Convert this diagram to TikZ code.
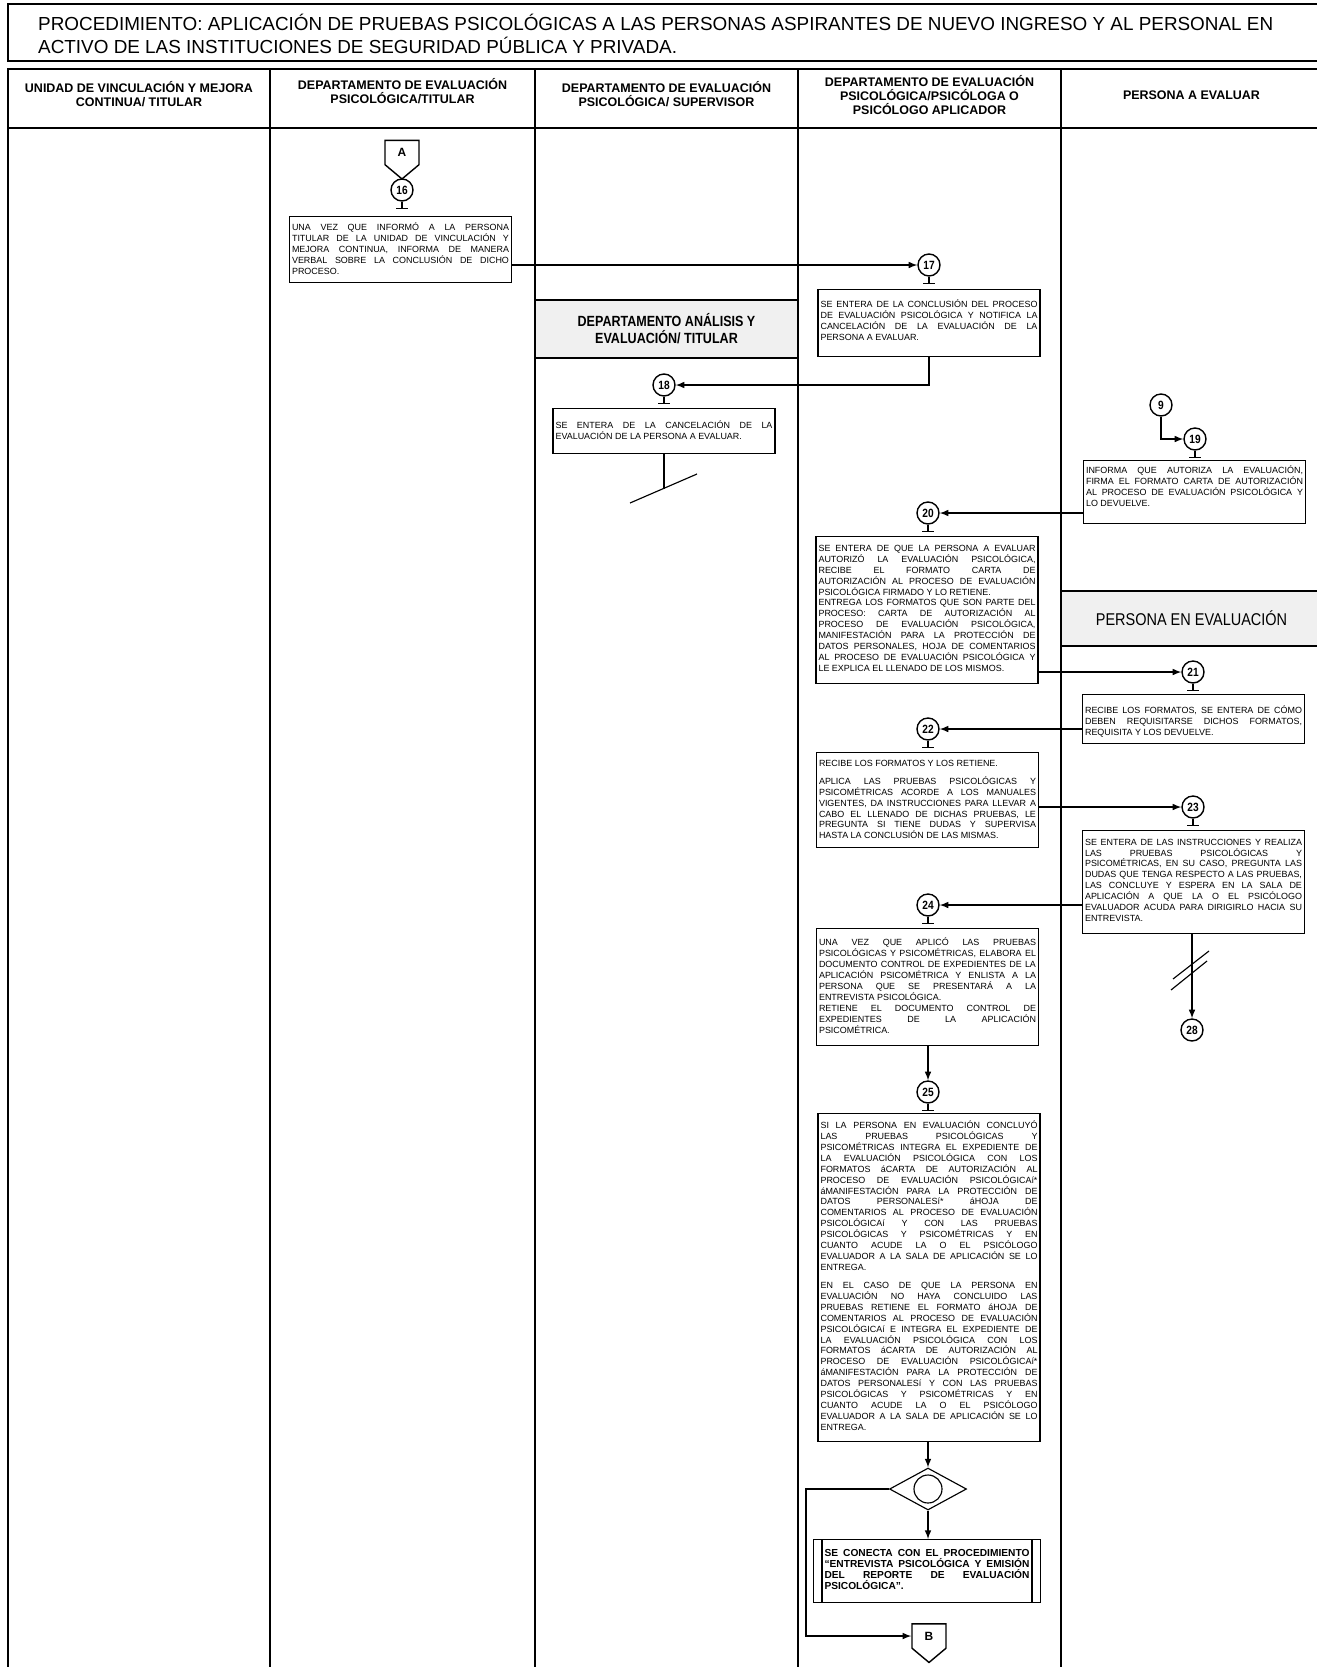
\documentclass[tikz,border=0pt]{standalone}
\usepackage{fontspec}
\setmainfont{Liberation Sans}
\newfontfamily\angosta{Liberation Sans}[FakeStretch=0.85]
\usetikzlibrary{calc}
\usetikzlibrary{shapes,arrows}

\definecolor{gris}{HTML}{F0F0F0}
\newdimen\px \px=0.02cm
\hbadness=10000
\newcommand{\cajafont}{\fontsize{5.1}{6.2}\selectfont}
% alto del texto, espacio arriba, texto
\newcommand{\caja}[3]{\parbox[c][#1\px][t]{4.34cm}{\vspace*{#2\px}\cajafont\sloppy #3}}

\tikzset{
  linea/.style={line width=0.9pt},
  encab/.style={align=center, font=\bfseries\fontsize{7.1}{8.2}\selectfont},
  paso/.style={draw, line width=0.65pt, anchor=north, inner xsep=0.05cm, inner ysep=0.08cm},
  num/.style={circle, draw, line width=0.8pt, minimum size=0.44cm, inner sep=0pt,
    font=\angosta\bfseries\fontsize{6.8}{6.8}\selectfont},
  conector/.style={signal, signal to=south, signal from=nowhere, signal pointer angle=100,
    draw, line width=0.8pt, minimum width=0.68cm, minimum height=0.56cm, inner sep=0pt,
    font=\bfseries\fontsize{6.8}{6.8}\selectfont},
  area/.style={draw, linea, fill=gris, align=center, inner sep=0pt},
  flecha/.style={line width=0.7pt, -latex},
  trazo/.style={line width=0.65pt}
}

\begin{document}
\begin{tikzpicture}[x=0.02cm, y=-0.02cm]
    \useasboundingbox (0,0) rectangle (1317,1667);

    % titulo y tabla
    \draw [linea] (8,4) rectangle (1322,61);
    \node [anchor=west, align=left, font=\fontsize{10.75}{13}\selectfont] (titulo) at (32,34)
      {PROCEDIMIENTO: APLICACIÓN DE PRUEBAS PSICOLÓGICAS A LAS PERSONAS ASPIRANTES DE NUEVO INGRESO Y AL PERSONAL EN\\
       ACTIVO DE LAS INSTITUCIONES DE SEGURIDAD PÚBLICA Y PRIVADA.};

    \draw [linea] (8,69) rectangle (1322,1690);
    \draw [linea] (8,128) -- (1322,128);
    \foreach \x in {270,535,798,1061}
      \draw [linea] (\x,69) -- (\x,1690);

    \node [encab] (h1) at (139,94) {UNIDAD DE VINCULACIÓN Y MEJORA\\CONTINUA/ TITULAR};
    \node [encab] (h2) at (402.5,91) {DEPARTAMENTO DE EVALUACIÓN\\PSICOLÓGICA/TITULAR};
    \node [encab] (h3) at (666.5,94) {DEPARTAMENTO DE EVALUACIÓN\\PSICOLÓGICA/ SUPERVISOR};
    \node [encab] (h4) at (929.5,95) {DEPARTAMENTO DE EVALUACIÓN\\PSICOLÓGICA/PSICÓLOGA O\\PSICÓLOGO APLICADOR};
    \node [encab] (h5) at (1191.5,95) {PERSONA A EVALUAR};

    % cambios de area
    \node [area, minimum width=5.26cm, minimum height=1.16cm, font=\angosta\bfseries\fontsize{8.4}{9.6}\selectfont]
      (g1) at (666.5,329) {DEPARTAMENTO ANÁLISIS Y\\EVALUACIÓN/ TITULAR};
    \node [area, minimum width=5.22cm, minimum height=1.1cm, font=\angosta\fontsize{9.7}{10}\selectfont]
      (g2) at (1191.5,618.5) {PERSONA EN EVALUACIÓN};

    % conectores y numeros
    \node [conector] (conA) at (402,152.5) {A};
    \node [num] (c16) at (402,190) {16};
    \node [num] (c17) at (929,265) {17};
    \node [num] (c18) at (664,385) {18};
    \node [num] (c9) at (1161,405) {9};
    \node [num] (c19) at (1195,439) {19};
    \node [num] (c20) at (928,513) {20};
    \node [num] (c21) at (1193,672) {21};
    \node [num] (c22) at (928,729) {22};
    \node [num] (c23) at (1193,807) {23};
    \node [num] (c24) at (928,905) {24};
    \node [num] (c28) at (1192,1030) {28};
    \node [num] (c25) at (928,1092) {25};

    \foreach \n in {c16,c17,c18,c19,c20,c21,c22,c23,c24,c25}
      \draw [trazo] (\n.south) -- ++(0,7) ++(-6,0) -- ++(12,0);

    % actividades
    \node [paso] (b16) at (400.5,216) {\caja{58}{2.6}{UNA VEZ QUE INFORMÓ A LA PERSONA\linebreak
      TITULAR DE LA UNIDAD DE VINCULACIÓN Y\linebreak
      MEJORA CONTINUA, INFORMA DE MANERA\linebreak
      VERBAL SOBRE LA CONCLUSIÓN DE DICHO\linebreak
      PROCESO.}};
    \node [paso] (b17) at (929,289) {\caja{59}{6.6}{SE ENTERA DE LA CONCLUSIÓN DEL PROCESO\linebreak
      DE EVALUACIÓN PSICOLÓGICA Y NOTIFICA LA\linebreak
      CANCELACIÓN DE LA EVALUACIÓN DE LA\linebreak
      PERSONA A EVALUAR.}};
    \node [paso] (b18) at (664,408) {\caja{37}{8.6}{SE ENTERA DE LA CANCELACIÓN DE LA\linebreak
      EVALUACIÓN DE LA PERSONA A EVALUAR.}};
    \node [paso] (b19) at (1194.5,460) {\caja{55}{1.6}{INFORMA QUE AUTORIZA LA EVALUACIÓN,\linebreak
      FIRMA EL FORMATO CARTA DE AUTORIZACIÓN\linebreak
      AL PROCESO DE EVALUACIÓN PSICOLÓGICA Y\linebreak
      LO DEVUELVE.}};
    \node [paso] (b20) at (927,536) {\caja{139}{4.6}{SE ENTERA DE QUE LA PERSONA A EVALUAR\linebreak
      AUTORIZÓ LA EVALUACIÓN PSICOLÓGICA,\linebreak
      RECIBE EL FORMATO CARTA DE\linebreak
      AUTORIZACIÓN AL PROCESO DE EVALUACIÓN\linebreak
      PSICOLÓGICA FIRMADO Y LO RETIENE.\par
      ENTREGA LOS FORMATOS QUE SON PARTE DEL\linebreak
      PROCESO: CARTA DE AUTORIZACIÓN AL\linebreak
      PROCESO DE EVALUACIÓN PSICOLÓGICA,\linebreak
      MANIFESTACIÓN PARA LA PROTECCIÓN DE\linebreak
      DATOS PERSONALES, HOJA DE COMENTARIOS\linebreak
      AL PROCESO DE EVALUACIÓN PSICOLÓGICA Y\linebreak
      LE EXPLICA EL LLENADO DE LOS MISMOS.}};
    \node [paso] (b21) at (1193.5,694) {\caja{41}{7.6}{RECIBE LOS FORMATOS, SE ENTERA DE CÓMO\linebreak
      DEBEN REQUISITARSE DICHOS FORMATOS,\linebreak
      REQUISITA Y LOS DEVUELVE.}};
    \node [paso] (b22) at (927.5,752) {\caja{87}{3.3}{RECIBE LOS FORMATOS Y LOS RETIENE.\par\vspace{4.2pt}
      APLICA LAS PRUEBAS PSICOLÓGICAS Y\linebreak
      PSICOMÉTRICAS ACORDE A LOS MANUALES\linebreak
      VIGENTES, DA INSTRUCCIONES PARA LLEVAR A\linebreak
      CABO EL LLENADO DE DICHAS PRUEBAS, LE\linebreak
      PREGUNTA SI TIENE DUDAS Y SUPERVISA\linebreak
      HASTA LA CONCLUSIÓN DE LAS MISMAS.}};
    \node [paso] (b23) at (1193.5,830) {\caja{95}{4.3}{SE ENTERA DE LAS INSTRUCCIONES Y REALIZA\linebreak
      LAS PRUEBAS PSICOLÓGICAS Y\linebreak
      PSICOMÉTRICAS, EN SU CASO, PREGUNTA LAS\linebreak
      DUDAS QUE TENGA RESPECTO A LAS PRUEBAS,\linebreak
      LAS CONCLUYE Y ESPERA EN LA SALA DE\linebreak
      APLICACIÓN A QUE LA O EL PSICÓLOGO\linebreak
      EVALUADOR ACUDA PARA DIRIGIRLO HACIA SU\linebreak
      ENTREVISTA.}};
    \node [paso] (b24) at (927.5,928) {\caja{109}{5.6}{UNA VEZ QUE APLICÓ LAS PRUEBAS\linebreak
      PSICOLÓGICAS Y PSICOMÉTRICAS, ELABORA EL\linebreak
      DOCUMENTO CONTROL DE EXPEDIENTES DE LA\linebreak
      APLICACIÓN PSICOMÉTRICA Y ENLISTA A LA\linebreak
      PERSONA QUE SE PRESENTARÁ A LA\linebreak
      ENTREVISTA PSICOLÓGICA.\par
      RETIENE EL DOCUMENTO CONTROL DE\linebreak
      EXPEDIENTES DE LA APLICACIÓN\linebreak
      PSICOMÉTRICA.}};
    \node [paso] (b25) at (929,1113) {\caja{320}{3.3}{SI LA PERSONA EN EVALUACIÓN CONCLUYÓ\linebreak
      LAS PRUEBAS PSICOLÓGICAS Y\linebreak
      PSICOMÉTRICAS INTEGRA EL EXPEDIENTE DE\linebreak
      LA EVALUACIÓN PSICOLÓGICA CON LOS\linebreak
      FORMATOS áCARTA DE AUTORIZACIÓN AL\linebreak
      PROCESO DE EVALUACIÓN PSICOLÓGICAí*\linebreak
      áMANIFESTACIÓN PARA LA PROTECCIÓN DE\linebreak
      DATOS PERSONALESí* áHOJA DE\linebreak
      COMENTARIOS AL PROCESO DE EVALUACIÓN\linebreak
      PSICOLÓGICAí Y CON LAS PRUEBAS\linebreak
      PSICOLÓGICAS Y PSICOMÉTRICAS Y EN\linebreak
      CUANTO ACUDE LA O EL PSICÓLOGO\linebreak
      EVALUADOR A LA SALA DE APLICACIÓN SE LO\linebreak
      ENTREGA.\par\vspace{4.2pt}
      EN EL CASO DE QUE LA PERSONA EN\linebreak
      EVALUACIÓN NO HAYA CONCLUIDO LAS\linebreak
      PRUEBAS RETIENE EL FORMATO áHOJA DE\linebreak
      COMENTARIOS AL PROCESO DE EVALUACIÓN\linebreak
      PSICOLÓGICAí E INTEGRA EL EXPEDIENTE DE\linebreak
      LA EVALUACIÓN PSICOLÓGICA CON LOS\linebreak
      FORMATOS áCARTA DE AUTORIZACIÓN AL\linebreak
      PROCESO DE EVALUACIÓN PSICOLÓGICAí*\linebreak
      áMANIFESTACIÓN PARA LA PROTECCIÓN DE\linebreak
      DATOS PERSONALESí Y CON LAS PRUEBAS\linebreak
      PSICOLÓGICAS Y PSICOMÉTRICAS Y EN\linebreak
      CUANTO ACUDE LA O EL PSICÓLOGO\linebreak
      EVALUADOR A LA SALA DE APLICACIÓN SE LO\linebreak
      ENTREGA.}};

    \node [diamond, draw, trazo, minimum width=1.54cm, minimum height=0.84cm, aspect=1.8, inner sep=0pt]
      (dec) at (928,1489) {};
    \node [circle, draw, trazo, minimum size=0.56cm, inner sep=0pt] (decc) at (dec.center) {};

    \node [paso, inner xsep=0.22cm, inner ysep=0.1cm] (b26) at (927,1539)
      {\parbox[c][53\px][t]{4.1cm}{\vspace*{5\px}\bfseries\fontsize{5.8}{6.3}\selectfont\sloppy
      SE CONECTA CON EL PROCEDIMIENTO\linebreak
      “ENTREVISTA PSICOLÓGICA Y EMISIÓN\linebreak
      DEL REPORTE DE EVALUACIÓN\linebreak
      PSICOLÓGICA”.}};
    \draw [trazo] ([xshift=0.18cm]b26.north west) -- ([xshift=0.18cm]b26.south west);
    \draw [trazo] ([xshift=-0.18cm]b26.north east) -- ([xshift=-0.18cm]b26.south east);

    \node [conector] (conB) at (929,1636) {B};

    % flujo
    \draw [flecha] (b16.east |- c17) -- (c17);
    \draw [flecha] (b17.south) |- (c18.east);
    \coordinate (fin18) at (664,489);
    \draw [trazo] (b18.south) -- (fin18);
    \draw [trazo] ($(fin18)+(-34,14)$) -- ($(fin18)+(33,-15)$);
    \draw [flecha] (c9.south) |- (c19.west);
    \draw [flecha] (b19.west |- c20) -- (c20.east);
    \draw [flecha] (b20.east |- c21) -- (c21.west);
    \draw [flecha] (b21.west |- c22) -- (c22.east);
    \draw [flecha] (b22.east |- c23) -- (c23.west);
    \draw [flecha] (b23.west |- c24) -- (c24.east);
    \draw [flecha] (b23.south -| c28) -- (c28.north);
    \coordinate (corte28) at (1191,970);
    \draw [trazo] ($(corte28)+(-18,9)$) -- ($(corte28)+(18,-19)$);
    \draw [trazo] ($(corte28)+(-20,20)$) -- ($(corte28)+(16,-9)$);
    \draw [flecha] (b24.south -| c25) -- (c25.north);
    \draw [flecha] (b25.south -| dec) -- (dec.north);
    \draw [flecha] (dec.south) -- (b26.north -| dec);
    \draw [flecha] (dec.west) -- ++(-83,0) |- (conB.west);
\end{tikzpicture}
\end{document}
